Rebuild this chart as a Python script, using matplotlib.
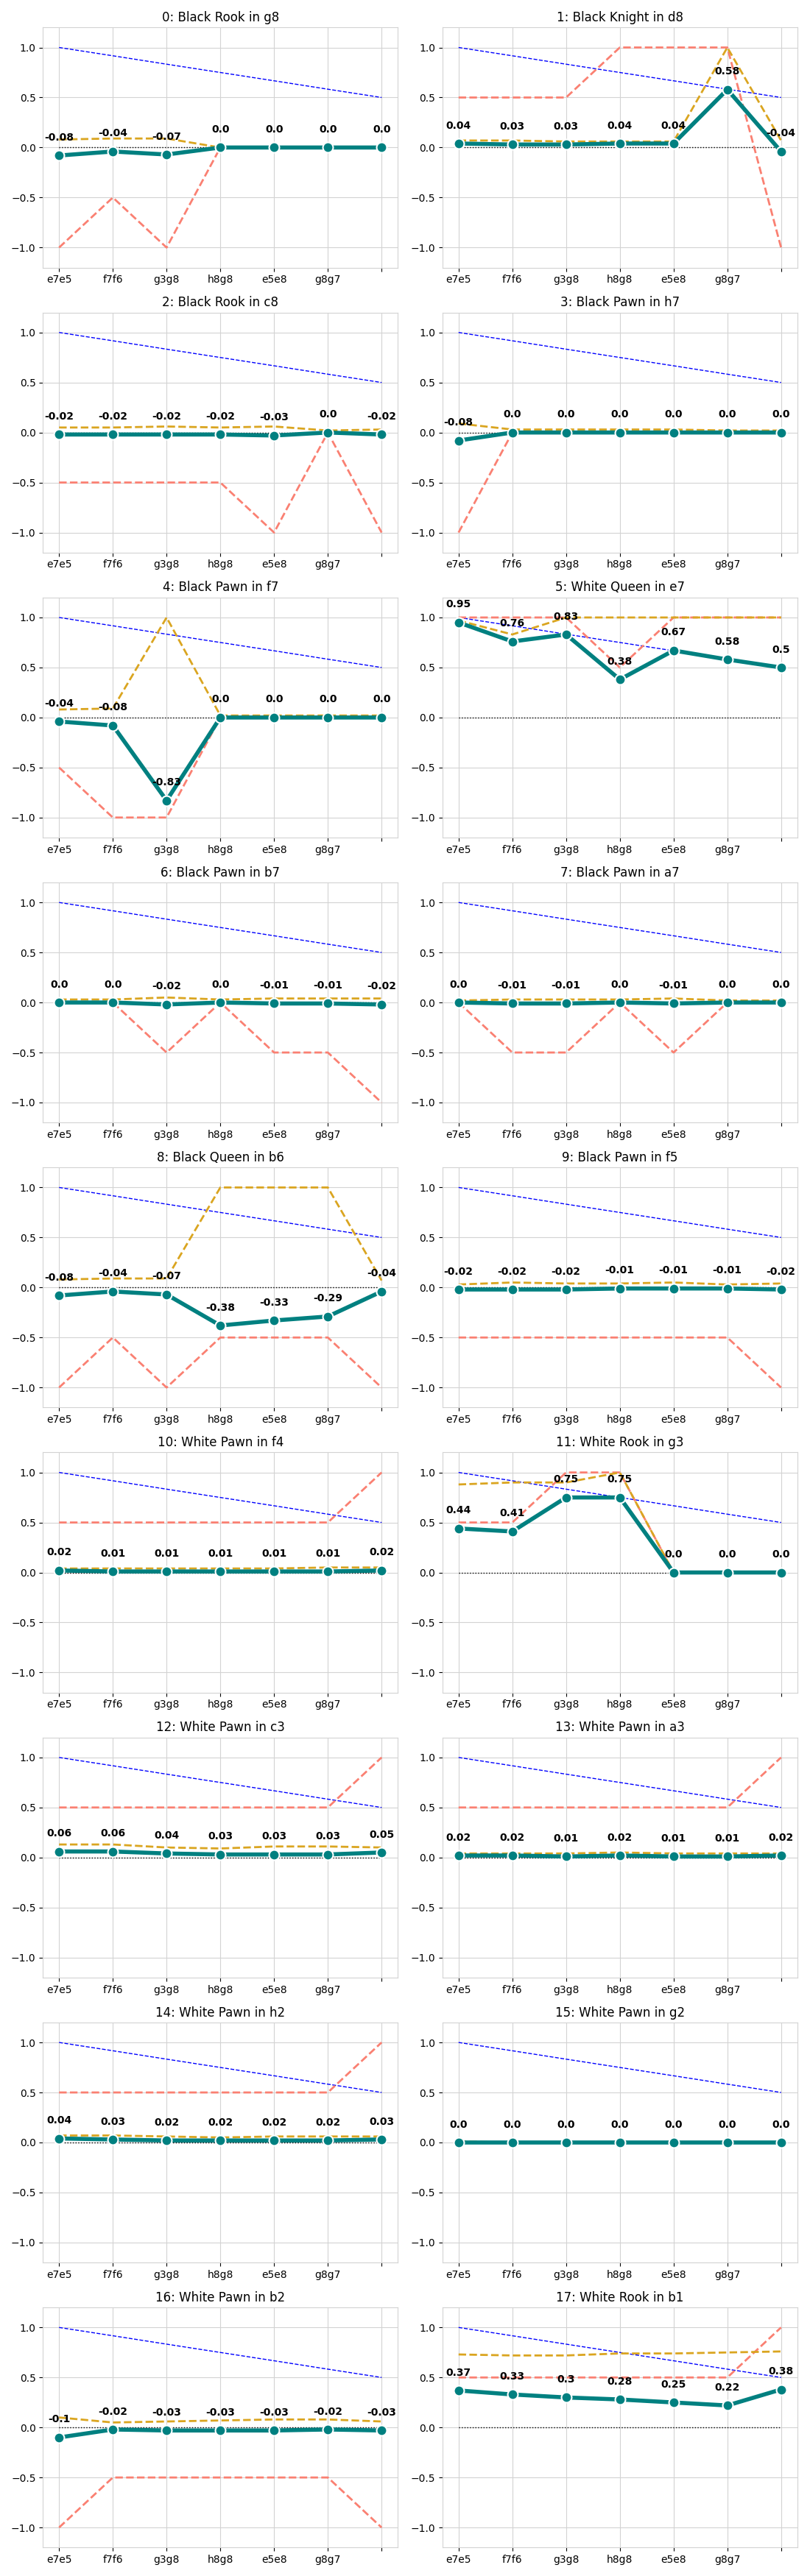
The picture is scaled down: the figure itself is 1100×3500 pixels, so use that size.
import numpy as np
import matplotlib
matplotlib.use("Agg")
import matplotlib.pyplot as plt

moves = ["e7e5", "f7f6", "g3g8", "h8g8", "e5e8", "g8g7", ""]

titles = [
    "0: Black Rook in g8", "1: Black Knight in d8",
    "2: Black Rook in c8", "3: Black Pawn in h7",
    "4: Black Pawn in f7", "5: White Queen in e7",
    "6: Black Pawn in b7", "7: Black Pawn in a7",
    "8: Black Queen in b6", "9: Black Pawn in f5",
    "10: White Pawn in f4", "11: White Rook in g3",
    "12: White Pawn in c3", "13: White Pawn in a3",
    "14: White Pawn in h2", "15: White Pawn in g2",
    "16: White Pawn in b2", "17: White Rook in b1",
]

# teal line (annotated values)
scores = [
    [-0.08, -0.04, -0.07, 0.0, 0.0, 0.0, 0.0],
    [0.04, 0.03, 0.03, 0.04, 0.04, 0.58, -0.04],
    [-0.02, -0.02, -0.02, -0.02, -0.03, 0.0, -0.02],
    [-0.08, 0.0, 0.0, 0.0, 0.0, 0.0, 0.0],
    [-0.04, -0.08, -0.83, 0.0, 0.0, 0.0, 0.0],
    [0.95, 0.76, 0.83, 0.38, 0.67, 0.58, 0.5],
    [0.0, 0.0, -0.02, 0.0, -0.01, -0.01, -0.02],
    [0.0, -0.01, -0.01, 0.0, -0.01, 0.0, 0.0],
    [-0.08, -0.04, -0.07, -0.38, -0.33, -0.29, -0.04],
    [-0.02, -0.02, -0.02, -0.01, -0.01, -0.01, -0.02],
    [0.02, 0.01, 0.01, 0.01, 0.01, 0.01, 0.02],
    [0.44, 0.41, 0.75, 0.75, 0.0, 0.0, 0.0],
    [0.06, 0.06, 0.04, 0.03, 0.03, 0.03, 0.05],
    [0.02, 0.02, 0.01, 0.02, 0.01, 0.01, 0.02],
    [0.04, 0.03, 0.02, 0.02, 0.02, 0.02, 0.03],
    [0.0, 0.0, 0.0, 0.0, 0.0, 0.0, 0.0],
    [-0.1, -0.02, -0.03, -0.03, -0.03, -0.02, -0.03],
    [0.37, 0.33, 0.3, 0.28, 0.25, 0.22, 0.38],
]

# orange dashed line
upper = [
    [0.08, 0.09, 0.09, 0.0, 0.0, 0.0, 0.0],
    [0.07, 0.07, 0.06, 0.06, 0.06, 1.0, 0.07],
    [0.05, 0.05, 0.06, 0.05, 0.06, 0.02, 0.03],
    [0.09, 0.03, 0.03, 0.03, 0.03, 0.02, 0.02],
    [0.08, 0.09, 1.0, 0.02, 0.02, 0.02, 0.02],
    [0.97, 0.83, 1.0, 1.0, 1.0, 1.0, 1.0],
    [0.03, 0.03, 0.05, 0.03, 0.04, 0.04, 0.04],
    [0.02, 0.03, 0.03, 0.03, 0.04, 0.02, 0.02],
    [0.08, 0.09, 0.09, 1.0, 1.0, 1.0, 0.07],
    [0.03, 0.05, 0.04, 0.04, 0.05, 0.03, 0.04],
    [0.04, 0.04, 0.04, 0.04, 0.04, 0.05, 0.05],
    [0.88, 0.9, 0.9, 1.0, 0.0, 0.0, 0.0],
    [0.13, 0.13, 0.1, 0.09, 0.11, 0.11, 0.1],
    [0.04, 0.04, 0.04, 0.05, 0.04, 0.04, 0.04],
    [0.07, 0.07, 0.06, 0.05, 0.06, 0.06, 0.06],
    [0.01, 0.0, 0.0, 0.0, 0.0, 0.0, 0.0],
    [0.1, 0.05, 0.06, 0.07, 0.08, 0.08, 0.06],
    [0.73, 0.72, 0.72, 0.74, 0.74, 0.75, 0.76],
]

# salmon dashed line
lower = [
    [-1.0, -0.5, -1.0, 0.0, 0.0, 0.0, 0.0],
    [0.5, 0.5, 0.5, 1.0, 1.0, 1.0, -1.0],
    [-0.5, -0.5, -0.5, -0.5, -1.0, 0.0, -1.0],
    [-1.0, 0.0, 0.0, 0.0, 0.0, 0.0, 0.0],
    [-0.5, -1.0, -1.0, 0.0, 0.0, 0.0, 0.0],
    [1.0, 1.0, 1.0, 0.5, 1.0, 1.0, 1.0],
    [0.0, 0.0, -0.5, 0.0, -0.5, -0.5, -1.0],
    [0.0, -0.5, -0.5, 0.0, -0.5, 0.0, 0.0],
    [-1.0, -0.5, -1.0, -0.5, -0.5, -0.5, -1.0],
    [-0.5, -0.5, -0.5, -0.5, -0.5, -0.5, -1.0],
    [0.5, 0.5, 0.5, 0.5, 0.5, 0.5, 1.0],
    [0.5, 0.5, 1.0, 1.0, 0.0, 0.0, 0.0],
    [0.5, 0.5, 0.5, 0.5, 0.5, 0.5, 1.0],
    [0.5, 0.5, 0.5, 0.5, 0.5, 0.5, 1.0],
    [0.5, 0.5, 0.5, 0.5, 0.5, 0.5, 1.0],
    [0.0, 0.0, 0.0, 0.0, 0.0, 0.0, 0.0],
    [-1.0, -0.5, -0.5, -0.5, -0.5, -0.5, -1.0],
    [0.5, 0.5, 0.5, 0.5, 0.5, 0.5, 1.0],
]

# blue reference line, same for every panel
reference = [1.0, 0.917, 0.833, 0.75, 0.667, 0.583, 0.5]


if __name__ == '__main__':
    plt.rcParams['axes.edgecolor'] = 'lightgray'
    plt.rcParams['grid.color'] = 'lightgray'

    fig, axes = plt.subplots(9, 2, figsize=(11, 35), dpi=100)
    x = np.arange(len(moves))

    for i, ax in enumerate(axes.flat):
        ax.grid(True, zorder=0)
        ax.set_axisbelow(True)
        ax.plot(x, np.zeros(len(x)), 'k:', linewidth=1, zorder=1)
        ax.plot(x, reference, '--', color='blue', linewidth=1, zorder=2)
        ax.plot(x, lower[i], '--', color='salmon', linewidth=2, zorder=3)
        ax.plot(x, upper[i], '--', color='goldenrod', linewidth=2, zorder=4)
        ax.plot(x, scores[i], '-o', color='teal', linewidth=4, markersize=10,
                markeredgecolor='white', markeredgewidth=1.5, zorder=5)
        for j, v in enumerate(scores[i]):
            ax.text(j, v + 0.15, str(round(v, 2)), ha='center',
                    fontweight='bold', fontsize=10, zorder=6)
        ax.set_ylim(-1.2, 1.2)
        ax.set_yticks([-1.0, -0.5, 0.0, 0.5, 1.0])
        ax.set_xticks(x)
        ax.set_xticklabels(moves)
        ax.set_title(titles[i], fontsize=12)

    plt.tight_layout()
    plt.savefig("out.png")
